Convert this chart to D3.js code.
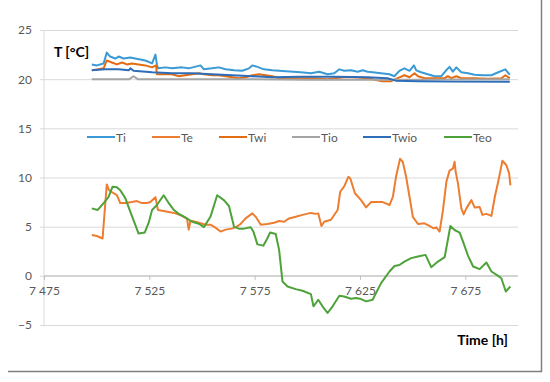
<!DOCTYPE html>
<html><head><meta charset="utf-8">
<script src="https://cdn.jsdelivr.net/npm/d3@7"></script>
<style>html,body{margin:0;padding:0;background:#fff;}svg{display:block;}</style>
</head><body>
<svg id="chart" width="550" height="382"></svg>
<script>
// ---- data ----
const seriesNames = ["Ti", "Te", "Twi", "Tio", "Twio", "Teo"];
const yTicks = [-5, 0, 5, 10, 15, 20, 25];
const xTicks = [7475, 7525, 7575, 7625, 7675];
const xTickLabels = ["7 475", "7 525", "7 575", "7 625", "7 675"];

const tiTime = [7497.7,7500.1,7503.3,7504.8,7506.4,7508.8,7510.4,7512.8,7516.0,7518.3,7520.7,7523.1,7526.3,7527.9,7528.6,7529.1,7532.6,7535.8,7540.5,7543.7,7549.3,7550.9,7554.8,7558.0,7561.2,7565.2,7569.1,7572.3,7573.9,7576.3,7579.4,7583.4,7589.8,7596.9,7601.7,7605.6,7609.6,7612.8,7615.2,7617.5,7620.7,7623.9,7626.3,7628.6,7631.0,7635.0,7639.0,7641.3,7643.7,7646.1,7648.5,7650.6,7651.7,7654.0,7657.2,7660.4,7663.6,7665.9,7667.5,7669.1,7670.7,7673.1,7676.3,7679.4,7683.4,7687.4,7690.6,7694.0,7696.1];
const tiValue = [21.5,21.4,21.6,22.7,22.3,22.1,22.3,22.1,22.2,22.1,22.0,21.9,21.6,22.5,21.5,21.1,21.2,21.1,21.2,21.1,21.4,21.0,21.1,21.2,21.0,20.9,20.85,21.1,21.4,21.25,21.0,20.9,20.8,20.7,20.6,20.76,20.5,20.6,21.0,20.85,20.9,20.76,20.9,20.76,20.7,20.6,20.5,20.3,20.85,21.1,20.85,21.4,20.9,20.7,20.5,20.3,20.3,20.9,21.25,20.76,21.2,20.7,20.6,20.45,20.4,20.4,20.7,21.0,20.45];

const teTime = [7497.7,7500.1,7502.8,7504.8,7505.9,7508.0,7509.6,7511.2,7513.6,7516.7,7519.1,7521.5,7523.9,7525.5,7527.9,7529.1,7531.8,7534.2,7537.4,7540.5,7542.9,7543.7,7544.5,7546.9,7549.3,7551.7,7554.0,7556.4,7558.8,7561.2,7564.0,7566.0,7568.3,7570.7,7573.9,7575.5,7577.9,7581.0,7584.2,7586.6,7589.0,7591.3,7594.5,7597.7,7601.7,7604.0,7605.2,7606.7,7608.0,7611.2,7614.4,7615.6,7617.5,7619.5,7620.4,7622.6,7625.5,7627.9,7630.2,7632.6,7635.8,7639.0,7640.6,7642.1,7644.0,7645.3,7646.9,7648.5,7650.1,7652.5,7655.6,7658.0,7659.9,7661.2,7662.8,7664.4,7666.0,7667.5,7669.1,7669.9,7670.4,7671.5,7673.1,7674.2,7675.5,7677.9,7679.4,7681.8,7683.1,7685.0,7687.4,7689.0,7690.6,7692.6,7694.5,7695.8,7696.4];
const teValue = [4.16,4.05,3.8,9.3,8.7,8.4,8.2,7.4,7.4,7.5,7.6,7.4,7.4,7.5,8.0,6.7,6.6,6.5,6.35,6.1,5.8,4.7,5.6,5.5,5.35,5.2,5.2,4.9,4.5,4.7,4.8,4.93,5.27,5.84,6.35,6.0,5.2,5.27,5.4,5.57,5.5,5.84,6.0,6.2,6.4,6.3,6.35,5.07,5.5,5.7,6.7,8.55,9.1,10.07,9.9,8.4,7.7,6.96,7.5,7.5,7.5,7.2,8.04,10.07,11.9,11.6,10.07,8.04,6.0,5.27,5.34,5.07,4.83,4.93,4.5,6.7,9.56,10.7,10.9,11.6,10.6,9.4,6.86,6.25,6.86,7.7,6.96,7.0,6.2,6.3,6.1,8.04,9.56,11.7,11.25,10.4,9.2];

const twiTime = [7497.7,7500.9,7503.3,7504.8,7507.2,7509.6,7512.0,7514.4,7516.7,7519.9,7523.1,7526.3,7528.2,7528.6,7532.6,7535.8,7539.0,7542.1,7545.3,7548.5,7550.9,7554.8,7558.0,7561.2,7564.4,7567.5,7570.7,7573.9,7577.1,7580.2,7583.4,7586.6,7592.9,7596.9,7603.2,7609.6,7612.8,7617.5,7622.3,7628.6,7635.0,7639.8,7642.9,7646.1,7648.5,7650.9,7652.5,7655.6,7660.4,7665.2,7666.7,7668.3,7670.7,7673.1,7679.4,7685.8,7692.1,7694.0,7696.1];
const twiValue = [20.9,21.0,21.1,21.9,21.7,21.5,21.7,21.5,21.6,21.5,21.4,21.2,21.4,20.5,20.5,20.5,20.3,20.4,20.5,20.6,20.5,20.4,20.4,20.3,20.2,20.1,20.2,20.4,20.5,20.4,20.3,20.1,20.1,20.1,20.1,20.0,20.1,20.2,20.2,20.1,19.8,19.8,20.1,20.4,20.2,20.6,20.3,20.1,20.1,20.1,20.3,20.1,20.3,20.1,20.1,20.05,20.1,20.4,20.1];

const tioTime = [7497.7,7512.0,7515.5,7517.5,7519.5,7560.0,7600.0,7650.0,7696.1];
const tioValue = [20.0,20.0,20.0,20.3,20.0,20.0,19.95,19.95,20.0];

const twioTime = [7497.7,7504.0,7510.4,7515.2,7516.0,7517.5,7526.3,7535.8,7545.3,7554.8,7564.4,7573.9,7583.4,7596.9,7612.8,7628.6,7638.0,7642.0,7652.5,7668.0,7696.1];
const twioValue = [20.9,21.0,21.0,20.9,21.1,20.85,20.7,20.6,20.6,20.5,20.4,20.3,20.2,20.25,20.25,20.2,20.1,19.85,19.8,19.75,19.75];

const teoTime = [7497.7,7500.5,7503.3,7505.6,7507.5,7509.6,7511.2,7513.6,7516.0,7518.3,7519.9,7522.8,7524.7,7526.3,7528.6,7531.8,7534.2,7536.6,7539.0,7542.1,7545.3,7548.5,7550.9,7554.0,7557.2,7560.4,7562.8,7565.2,7567.5,7569.9,7573.1,7574.4,7576.3,7579.1,7581.0,7582.3,7585.0,7586.6,7588.2,7590.6,7594.5,7597.7,7601.7,7602.9,7605.2,7607.2,7609.6,7612.0,7615.2,7617.5,7620.7,7623.1,7625.5,7627.9,7631.0,7635.0,7639.0,7641.4,7643.7,7646.1,7649.3,7652.5,7656.1,7658.8,7662.0,7665.2,7667.9,7669.9,7672.3,7673.9,7676.3,7678.7,7681.8,7685.0,7687.4,7690.6,7692.1,7694.2,7696.4];
const teoValue = [6.86,6.7,7.4,8.0,9.05,9.0,8.7,7.9,6.5,5.2,4.3,4.4,5.4,6.7,7.2,8.2,7.4,6.7,6.3,5.95,5.5,5.3,4.95,6.0,8.2,7.7,7.1,5.0,4.8,4.8,4.95,4.5,3.2,3.07,3.8,4.4,4.26,2.64,-0.57,-1.08,-1.35,-1.52,-1.86,-3.1,-2.43,-3.1,-3.78,-3.1,-2.03,-2.1,-2.33,-2.26,-2.36,-2.6,-2.43,-0.74,0.44,1.0,1.1,1.45,1.8,1.96,2.13,0.88,1.45,1.9,5.07,4.66,4.4,3.48,2.03,0.95,0.68,1.35,0.44,0.0,-0.24,-1.59,-1.08];

const colors = ["#3A9AD5", "#ED7D31", "#E46C12", "#A5A5A5", "#2E6DB8", "#4EA23A"];

// ---- build ----
const series = [
  {name: "Ti",   t: tiTime,   v: tiValue},
  {name: "Te",   t: teTime,   v: teValue},
  {name: "Twi",  t: twiTime,  v: twiValue},
  {name: "Tio",  t: tioTime,  v: tioValue},
  {name: "Twio", t: twioTime, v: twioValue},
  {name: "Teo",  t: teoTime,  v: teoValue}
];

const svg = d3.select("#chart");
const font = "Lato, 'Open Sans', sans-serif";

const x = d3.scaleLinear().domain([7475, 7700]).range([44, 518]);
const y = d3.scaleLinear().domain([-5, 25]).range([325, 30]);

// chart border (right and bottom)
svg.append("line").attr("x1", 541.5).attr("x2", 541.5).attr("y1", 0).attr("y2", 372)
  .attr("stroke", "#7f7f7f").attr("stroke-width", 1.5);
svg.append("line").attr("x1", 8).attr("x2", 542).attr("y1", 371.5).attr("y2", 371.5)
  .attr("stroke", "#7f7f7f").attr("stroke-width", 1.5);

// gridlines + y axis
const yAxis = d3.axisLeft(y).tickValues(yTicks).tickSize(-(518 - 40)).tickFormat(d3.format("d"));
const gy = svg.append("g").attr("transform", "translate(40,0)").call(yAxis);
gy.select(".domain").remove();
gy.selectAll(".tick line").attr("stroke", "#d9d9d9").attr("stroke-width", 1);
gy.selectAll(".tick text").attr("x", -8).attr("fill", "#595959")
  .style("font-family", font).style("font-size", "12px");
svg.append("line").attr("x1", 44).attr("x2", 44).attr("y1", y(25)).attr("y2", y(-5))
  .attr("stroke", "#d9d9d9");

// x axis at y=0
const xAxis = d3.axisBottom(x).tickValues(xTicks).tickSize(4)
  .tickFormat((d, i) => xTickLabels[i]);
const gx = svg.append("g").attr("transform", `translate(0,${y(0)})`).call(xAxis);
gx.select(".domain").attr("d", `M44,0H518`).attr("stroke", "#bfbfbf");
gx.selectAll(".tick line").attr("stroke", "#bfbfbf");
gx.selectAll(".tick text").attr("y", 11).attr("fill", "#595959")
  .style("font-family", font).style("font-size", "12px");

// lines
const line = d3.line().x(d => x(d[0])).y(d => y(d[1]));
series.forEach((s, i) => {
  const pts = s.t.map((t, k) => [t, s.v[k]]);
  svg.append("path").datum(pts).attr("d", line).attr("fill", "none")
    .attr("stroke", colors[i]).attr("stroke-width", 2).attr("stroke-linejoin", "round");
});

// legend
const legendX = [87, 152, 219, 292, 363, 444];
const lg = svg.append("g");
seriesNames.forEach((n, i) => {
  lg.append("line").attr("x1", legendX[i]).attr("x2", legendX[i] + 28)
    .attr("y1", 137).attr("y2", 137).attr("stroke", colors[i]).attr("stroke-width", 2);
  lg.append("text").attr("x", legendX[i] + 29).attr("y", 141.5).text(n)
    .attr("fill", "#595959").style("font-family", font).style("font-size", "12px");
});

// axis titles
svg.append("text").attr("x", 54).attr("y", 57).text("T [°C]")
  .attr("fill", "#000").style("font-family", font).style("font-weight", "bold").style("font-size", "14px");
svg.append("text").attr("x", 508).attr("y", 345).attr("text-anchor", "end").text("Time [h]")
  .attr("fill", "#000").style("font-family", font).style("font-weight", "bold").style("font-size", "14px");
</script>
</body></html>
